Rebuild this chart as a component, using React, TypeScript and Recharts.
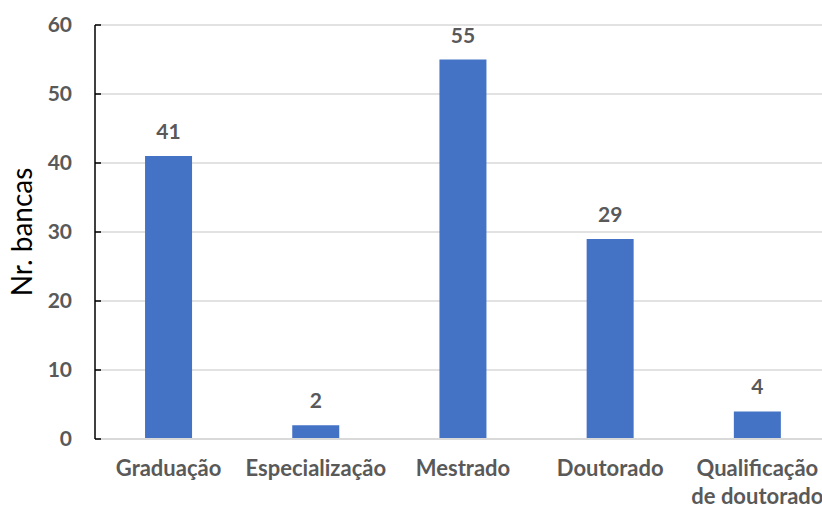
import { BarChart, Bar, XAxis, YAxis, CartesianGrid, LabelList } from "recharts";

const categories = ["Graduação", "Especialização", "Mestrado", "Doutorado", "Qualificação de doutorado"];
const bancas = [41, 2, 55, 29, 4];
const yTicks = [0, 10, 20, 30, 40, 50, 60];

const data = categories.map((name, i) => ({ name, bancas: bancas[i] }));

const FONT = "Lato, 'Open Sans', sans-serif";
const GRAY = "#595959";

function XTick({ x, y, payload }: any) {
  const label: string = payload.value;
  const lines = label === "Qualificação de doutorado" ? ["Qualificação", "de doutorado"] : [label];
  return (
    <text x={x} y={y} textAnchor="middle" fill={GRAY} fontFamily={FONT} fontWeight="bold" fontSize={22}>
      {lines.map((l, i) => (
        <tspan key={i} x={x} dy={i === 0 ? 0 : 28}>{l}</tspan>
      ))}
    </text>
  );
}

function YTick({ x, y, payload }: any) {
  return (
    <g>
      <line x1={x + 23} x2={x + 29} y1={y} y2={y} stroke="#000" strokeWidth={1.5} />
      <text x={x} y={y} dy={7} textAnchor="end" fill={GRAY} fontFamily={FONT} fontWeight="bold" fontSize={21}>
        {payload.value}
      </text>
    </g>
  );
}

export default function App() {
  return (
    <div style={{ position: "absolute", left: 0, top: 0, width: 822, height: 508, overflow: "hidden", background: "#fff" }}>
      <BarChart width={840} height={508} data={data} margin={{ top: 25, right: 9, left: 0, bottom: 0 }} barCategoryGap="34%">
        <CartesianGrid vertical={false} stroke="#d9d9d9" strokeWidth={1.5} />
        <XAxis
          dataKey="name"
          height={69}
          axisLine={{ stroke: "#d9d9d9", strokeWidth: 2 }}
          tickLine={false}
          tickSize={0}
          tickMargin={37}
          tick={<XTick />}
          interval={0}
        />
        <YAxis
          width={95}
          domain={[0, 60]}
          ticks={yTicks}
          axisLine={{ stroke: "#000", strokeWidth: 1.5 }}
          tickLine={false}
          tickSize={0}
          tickMargin={23}
          tick={<YTick />}
          label={{
            value: "Nr. bancas",
            angle: -90,
            position: "insideLeft",
            offset: 22,
            style: { textAnchor: "middle", fill: "#000", fontFamily: FONT, fontSize: 28 },
          }}
        />
        <Bar dataKey="bancas" fill="#4472C4" isAnimationActive={false}>
          <LabelList dataKey="bancas" position="top" offset={17} fill={GRAY} fontFamily={FONT} fontWeight="bold" fontSize={21} />
        </Bar>
      </BarChart>
    </div>
  );
}
